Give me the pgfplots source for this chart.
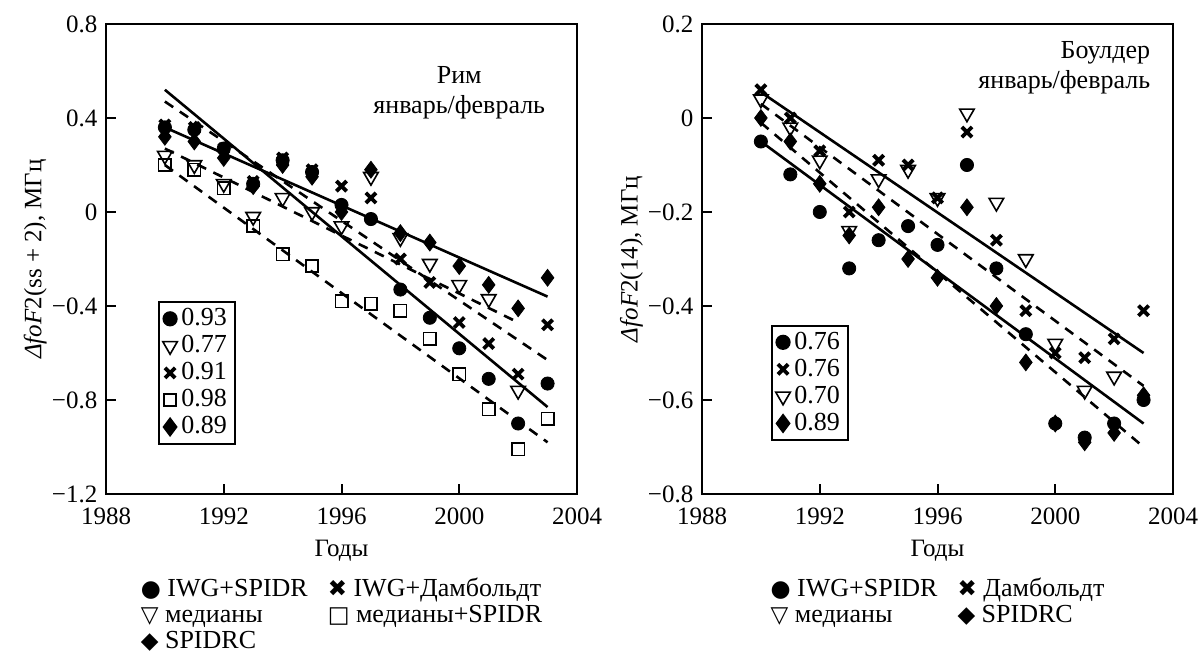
\documentclass[border=0pt]{standalone}
\usepackage{fontspec}
\setmainfont{Liberation Serif}
\newfontfamily\sym{DejaVu Sans}
\usepackage{pgfplots}
\pgfplotsset{compat=1.18}
\newcommand{\sm}[1]{{\sym\fontsize{11.5}{13}\selectfont #1}}
\pgfplotsset{
  myax/.style={
    width=235.5pt, height=235pt, scale only axis, clip=false,
    axis line style={line width=1pt},
    tick style={line width=1pt, black},
    tick align=inside, tick pos=left, major tick length=5pt,
    xmin=1988, xmax=2004,
    xtick={1988,1992,1996,2000,2004},
    xticklabels={1988,1992,1996,2000,2004},
    every tick label/.append style={font=\fontsize{12.5}{14}\selectfont},
    xticklabel style={yshift=-2.5pt},
    xlabel={Годы},
    xlabel style={at={(axis description cs:0.5,-0.12)}, anchor=center, font=\fontsize{12.5}{14}\selectfont},
    ylabel style={at={(axis description cs:-0.15,0.5)}, anchor=center, font=\fontsize{12.5}{14}\selectfont},
    legend style={draw=black, line width=1pt, font=\fontsize{13}{14}\selectfont,
      inner xsep=2pt, inner ysep=1pt, row sep=-1pt, cells={anchor=west}},
    legend cell align=left,
  },
  dot/.style={only marks, mark=*, mark size=3.3pt, mark options={fill=black, draw=black}},
  tri/.style={only marks, mark=triangle, mark size=4.2pt, mark options={rotate=180, fill=white, draw=black, line width=0.8pt}},
  crs/.style={only marks, mark=x, mark size=3.6pt, mark options={draw=black, line width=1.9pt}},
  sqr/.style={only marks, mark=square, mark size=3.1pt, mark options={fill=white, draw=black, line width=0.8pt}},
  dia/.style={only marks, mark=diamond*, mark size=4.2pt, mark options={fill=black, draw=black}},
  fitS/.style={forget plot, black, line width=1.3pt},
  fitD/.style={forget plot, black, line width=1.3pt, dash pattern=on 5pt off 4pt},
}
\begin{document}
\fontsize{12.5}{14}\selectfont
\begin{tikzpicture}[x=1pt,y=1pt]
\path[use as bounding box] (0,0) rectangle (601,328.5);
\begin{axis}[myax, at={(53pt,81.5pt)}, anchor=south west,
  ymin=-1.2, ymax=0.8,
  ytick={-1.2,-0.8,-0.4,0,0.4,0.8},
  yticklabels={−1.2,−0.8,−0.4,0,0.4,0.8},
  ylabel={{\itshape ΔfoF}2(ss + 2), МГц},
  legend style={at={(0.11,0.41)}, anchor=north west},
]
\addplot[dot] coordinates {(1990,0.36) (1991,0.35) (1992,0.27) (1993,0.12) (1994,0.22) (1995,0.17) (1996,0.03) (1997,-0.03) (1998,-0.33) (1999,-0.45) (2000,-0.58) (2001,-0.71) (2002,-0.90) (2003,-0.73)};
\addplot[tri] coordinates {(1990,0.24) (1991,0.20) (1992,0.12) (1993,-0.02) (1994,0.06) (1995,0.00) (1996,-0.06) (1997,0.15) (1998,-0.11) (1999,-0.22) (2000,-0.31) (2001,-0.37) (2002,-0.76)};
\addplot[crs] coordinates {(1990,0.37) (1991,0.36) (1992,0.27) (1993,0.13) (1994,0.23) (1995,0.18) (1996,0.11) (1997,0.06) (1998,-0.20) (1999,-0.30) (2000,-0.47) (2001,-0.56) (2002,-0.69) (2003,-0.48)};
\addplot[sqr] coordinates {(1990,0.20) (1991,0.18) (1992,0.10) (1993,-0.06) (1994,-0.18) (1995,-0.23) (1996,-0.38) (1997,-0.39) (1998,-0.42) (1999,-0.54) (2000,-0.69) (2001,-0.84) (2002,-1.01) (2003,-0.88)};
\addplot[dia] coordinates {(1990,0.32) (1991,0.30) (1992,0.23) (1993,0.11) (1994,0.20) (1995,0.15) (1996,0.00) (1997,0.18) (1998,-0.09) (1999,-0.13) (2000,-0.23) (2001,-0.31) (2002,-0.41) (2003,-0.28)};
\legend{0.93,0.77,0.91,0.98,0.89}
\addplot[fitS] coordinates {(1990,0.52) (2003,-0.83)};
\addplot[fitS] coordinates {(1990,0.36) (2003,-0.36)};
\addplot[fitD] coordinates {(1990,0.47) (2003,-0.63)};
\addplot[fitD] coordinates {(1990,0.27) (2002,-0.47)};
\addplot[fitD] coordinates {(1990,0.20) (2003,-0.98)};
\node[align=center, font=\fontsize{13}{15}\selectfont] at (axis description cs:0.75,0.853) {Рим\\январь/февраль};
\node[anchor=north, font=\fontsize{13}{14}\selectfont] at (axis description cs:0.5,-0.16) {%
\renewcommand{\arraystretch}{0.93}%
\begin{tabular}{@{}l@{\hspace{10pt}}l@{}}
\sm{●} IWG+SPIDR & \sm{✖} IWG+Дамбольдт\\
\sm{▽} медианы & \sm{□} медианы+SPIDR\\
\sm{◆} SPIDRC &
\end{tabular}};
\end{axis}
\begin{axis}[myax, at={(351pt,81.5pt)}, anchor=south west,
  ymin=-0.8, ymax=0.2,
  ytick={-0.8,-0.6,-0.4,-0.2,0,0.2},
  yticklabels={−0.8,−0.6,−0.4,−0.2,0,0.2},
  ylabel={{\itshape ΔfoF}2(14), МГц},
  legend style={at={(0.146,0.36)}, anchor=north west},
]
\addplot[dot] coordinates {(1990,-0.05) (1991,-0.12) (1992,-0.20) (1993,-0.32) (1994,-0.26) (1995,-0.23) (1996,-0.27) (1997,-0.10) (1998,-0.32) (1999,-0.46) (2000,-0.65) (2001,-0.68) (2002,-0.65) (2003,-0.60)};
\addplot[crs] coordinates {(1990,0.06) (1991,0.00) (1992,-0.07) (1993,-0.20) (1994,-0.09) (1995,-0.10) (1996,-0.17) (1997,-0.03) (1998,-0.26) (1999,-0.41) (2000,-0.50) (2001,-0.51) (2002,-0.47) (2003,-0.41)};
\addplot[tri] coordinates {(1990,0.04) (1991,-0.02) (1992,-0.09) (1993,-0.24) (1994,-0.13) (1995,-0.11) (1996,-0.17) (1997,0.01) (1998,-0.18) (1999,-0.30) (2000,-0.48) (2001,-0.58) (2002,-0.55)};
\addplot[dia] coordinates {(1990,0.00) (1991,-0.05) (1992,-0.14) (1993,-0.25) (1994,-0.19) (1995,-0.30) (1996,-0.34) (1997,-0.19) (1998,-0.40) (1999,-0.52) (2000,-0.65) (2001,-0.69) (2002,-0.67) (2003,-0.59)};
\legend{0.76,0.76,0.70,0.89}
\addplot[fitS] coordinates {(1990,0.055) (2003,-0.50)};
\addplot[fitD] coordinates {(1990,0.03) (2003,-0.57)};
\addplot[fitS] coordinates {(1990,-0.05) (2003,-0.65)};
\addplot[fitD] coordinates {(1990,-0.01) (2003,-0.70)};
\node[align=right, anchor=east, font=\fontsize{13}{15}\selectfont] at (axis description cs:0.97,0.906) {Боулдер\\январь/февраль};
\node[anchor=north, font=\fontsize{13}{14}\selectfont] at (axis description cs:0.5,-0.16) {%
\renewcommand{\arraystretch}{0.93}%
\begin{tabular}{@{}l@{\hspace{10pt}}l@{}}
\sm{●} IWG+SPIDR & \sm{✖} Дамбольдт\\
\sm{▽} медианы & \sm{◆} SPIDRC
\end{tabular}};
\end{axis}
\end{tikzpicture}
\end{document}
